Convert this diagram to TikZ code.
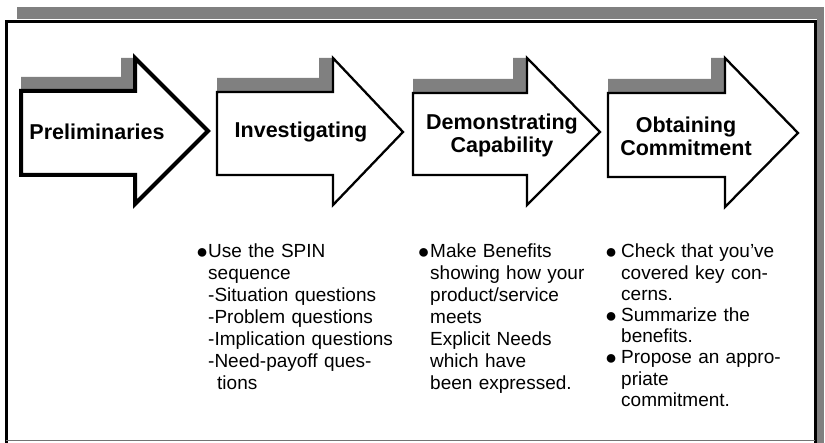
\documentclass[tikz,border=0pt]{standalone}
\usepackage{fontspec}
\setmainfont{Liberation Sans}
\newcommand\stagearrow[9]{%
  \fill[shadefill] (#1,#2) -- (#1,#2-14) -- (#4-14,#2-14) -- (#4-14,#5) -- (#4,#5) -- (#4,#2) -- cycle;
  \draw[#9] (#1,#2) -- (#4,#2) -- (#4,#5) -- (#7,#8) -- (#4,#6) -- (#4,#3) -- (#1,#3) -- cycle;}
\newcommand\blt[1]{\leavevmode\llap{\raisebox{-0.5pt}{\fontsize{20pt}{20pt}\selectfont ●}\hspace{#1}}}
\begin{document}
\begin{tikzpicture}[x=1pt,y=-1pt,
  shadefill/.style={fill=black!50},
  stagebox/.style={draw=black, fill=white, line join=miter, line width=2.3pt},
  stagethick/.style={stagebox, line width=4pt},
  stagetitle/.style={font=\bfseries\fontsize{21.5pt}{23pt}\selectfont, align=center, inner sep=0pt},
  bullettext/.style={font=\fontsize{19pt}{22pt}\selectfont, align=left, anchor=base west, inner sep=0pt, text width=200pt}]
\useasboundingbox (0,0) rectangle (825,443);
% frame with shadow
\fill[shadefill] (17,7) rectangle (824,19);
\fill[shadefill] (817,7) rectangle (824,443);
\draw[line width=3pt] (6,443) -- (6,21.5) -- (815,21.5) -- (815,443);
\draw[black!55, line width=1pt] (6,441) -- (815,441);
% arrows
\stagearrow{21}{91}{175}{135}{58}{204}{208}{131}{stagethick}
\stagearrow{217}{92}{175}{333}{58}{205}{403}{132}{stagebox}
\stagearrow{413}{93}{175}{527}{58}{205}{600}{132}{stagebox}
\stagearrow{608}{93}{177}{725}{58}{207}{798}{133}{stagebox}
% titles
\node[stagetitle] (t1) at (97,132) {Preliminaries};
\node[stagetitle] (t2) at (301,132) {Investigating};
\node[stagetitle] (t3) at (502,135) {Demonstrating\\Capability};
\node[stagetitle] (t4) at (686,136) {Obtaining\\Commitment};
% bullet columns
\node[bullettext] (c1) at (208,258) {\blt{0pt}Use the SPIN\\
sequence\\
-Situation questions\\
-Problem questions\\
-Implication questions\\
-Need-payoff ques-\\
\hspace*{9pt}tions};
\node[bullettext] (c2) at (430,258) {\blt{0.5pt}Make Benefits\\
showing how your\\
product/service\\
meets\\
Explicit Needs\\
which have\\
been expressed.};
\node[bullettext, font=\fontsize{19pt}{21.2pt}\selectfont] (c3) at (621,258) {\blt{4pt}Check that you've\\
covered key con-\\
cerns.\\
\blt{4pt}Summarize the\\
benefits.\\
\blt{4pt}Propose an appro-\\
priate\\
commitment.};
\end{tikzpicture}
\end{document}
